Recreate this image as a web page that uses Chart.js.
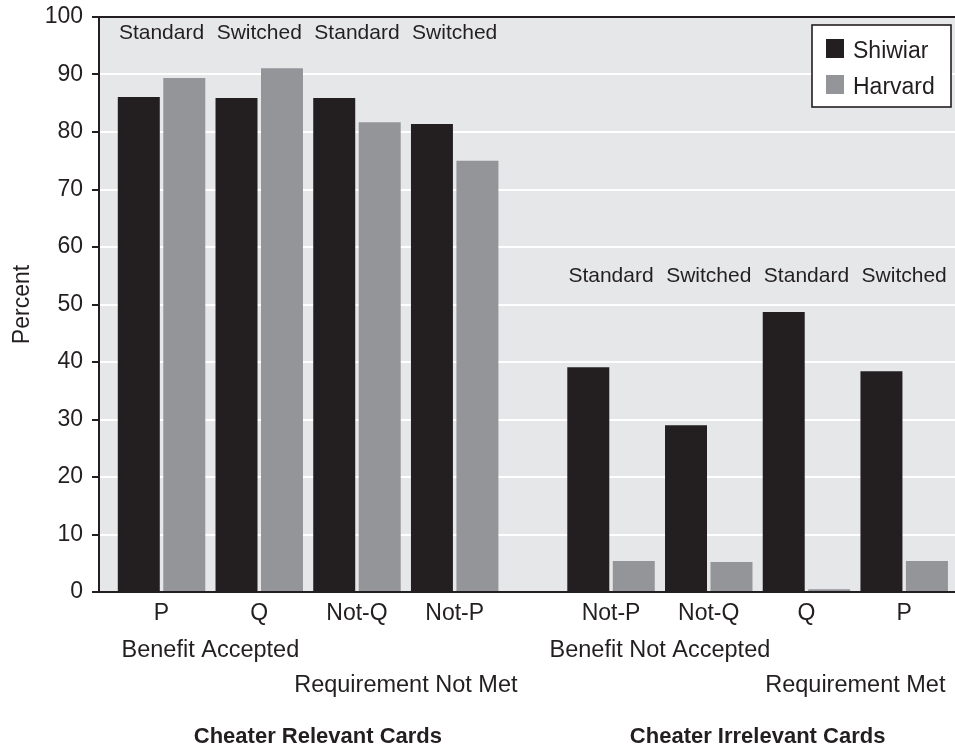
<!DOCTYPE html>
<html><head><meta charset="utf-8">
<script src="https://cdn.jsdelivr.net/npm/chart.js@4.4.0/dist/chart.umd.min.js"></script>
<style>html,body{margin:0;padding:0;background:#fff;overflow:hidden}#wrap{width:955px;height:748px;position:relative}</style>
</head><body><div id="wrap"><canvas id="c" width="955" height="748"></canvas></div>
<script>
// ---- data ----
const cards = ['P', 'Q', 'Not-Q', 'Not-P', 'Not-P', 'Not-Q', 'Q', 'P'];
const conditions = ['Standard', 'Switched', 'Standard', 'Switched', 'Standard', 'Switched', 'Standard', 'Switched'];
const shiwiar = [86.1, 85.9, 85.9, 81.4, 39.1, 29.0, 48.7, 38.4];
const harvard = [89.4, 91.1, 81.7, 75.0, 5.4, 5.2, 0.5, 5.4];
const pairLabels = ['Benefit Accepted', 'Requirement Not Met', 'Benefit Not Accepted', 'Requirement Met'];
const groupTitles = ['Cheater Relevant Cards', 'Cheater Irrelevant Cards'];
const seriesNames = ['Shiwiar', 'Harvard'];
const yTickValues = [0, 10, 20, 30, 40, 50, 60, 70, 80, 90, 100];

// ---- layout (not data) ----
const GROUP_GAP = 0.6;
const xPos = cards.map((c, i) => i + 1 + (i >= 4 ? GROUP_GAP : 0));
const X_MIN = 0.36, X_MAX = 9.12;
const condY = [96.1, 96.1, 96.1, 96.1, 54.0, 54.0, 54.0, 54.0];
const groupCenters = [2.6, 7.1];
const INK = '#231f20';
const FONT = '"Liberation Sans", Arial, Helvetica, sans-serif';

const toXY = arr => arr.map((v, i) => ({ x: xPos[i], y: v }));

const deco = {
  id: 'deco',
  beforeDraw(chart) {
    const { ctx, chartArea: a } = chart;
    ctx.save();
    ctx.fillStyle = '#ffffff';
    ctx.fillRect(0, 0, chart.width, chart.height);
    ctx.fillStyle = '#e6e7e8';
    ctx.fillRect(a.left, a.top, a.right - a.left, a.bottom - a.top);
    ctx.restore();
  },
  afterDraw(chart) {
    const { ctx } = chart;
    const xs = chart.scales.x, ys = chart.scales.y;
    ctx.save();
    ctx.fillStyle = INK;
    ctx.textAlign = 'center';
    ctx.textBaseline = 'alphabetic';
    // condition labels above bars
    ctx.font = '21px ' + FONT;
    conditions.forEach((t, i) => {
      ctx.fillText(t, xs.getPixelForValue(xPos[i]), ys.getPixelForValue(condY[i]));
    });
    // pair labels under the axis
    ctx.font = '23.5px ' + FONT;
    const rows = [657, 692, 657, 692];
    pairLabels.forEach((t, k) => {
      const xv = (xPos[2 * k] + xPos[2 * k + 1]) / 2;
      ctx.fillText(t, xs.getPixelForValue(xv), rows[k]);
    });
    // group titles
    ctx.font = 'bold 22px ' + FONT;
    groupTitles.forEach((t, g) => {
      ctx.fillText(t, xs.getPixelForValue(groupCenters[g]), 743);
    });
    // legend box
    ctx.fillStyle = '#ffffff';
    ctx.fillRect(812, 25, 139, 82);
    ctx.strokeStyle = INK;
    ctx.lineWidth = 1.6;
    ctx.strokeRect(812, 25, 139, 82);
    ctx.font = '23px ' + FONT;
    ctx.textAlign = 'left';
    chart.data.datasets.forEach((ds, i) => {
      ctx.fillStyle = ds.backgroundColor;
      ctx.fillRect(826, 39 + i * 36, 18, 19);
      ctx.fillStyle = INK;
      ctx.fillText(ds.label, 853, 58 + i * 35.5);
    });
    ctx.restore();
  }
};

new Chart(document.getElementById('c'), {
  type: 'bar',
  data: {
    datasets: [
      { label: seriesNames[0], data: toXY(shiwiar), backgroundColor: '#231f20', borderWidth: 0 },
      { label: seriesNames[1], data: toXY(harvard), backgroundColor: '#939598', borderWidth: 0 }
    ]
  },
  options: {
    responsive: false,
    animation: false,
    devicePixelRatio: 1,
    categoryPercentage: 0.931,
    barPercentage: 0.923,
    layout: { padding: { top: 17, right: 0, bottom: 0, left: 0 } },
    plugins: { legend: { display: false }, tooltip: { enabled: false } },
    scales: {
      x: {
        type: 'linear',
        min: X_MIN, max: X_MAX,
        offset: false,
        grid: { display: false, drawTicks: false },
        border: { display: true, color: INK, width: 2, z: 1 },
        afterBuildTicks(scale) { scale.ticks = xPos.map(v => ({ value: v })); },
        afterFit(scale) { scale.height = 156; scale.paddingLeft = 0; scale.paddingRight = 0; },
        ticks: {
          autoSkip: false, maxRotation: 0, minRotation: 0,
          padding: 8,
          color: INK,
          font: { family: FONT, size: 23 },
          callback: (v, i) => cards[i]
        }
      },
      y: {
        min: 0, max: 100,
        afterBuildTicks(scale) { scale.ticks = yTickValues.map(v => ({ value: v })); },
        afterFit(scale) { scale.width = 99; scale.paddingTop = 0; scale.paddingBottom = 0; },
        grid: {
          lineWidth: 2,
          color: c => (c.tick && c.tick.value === 100) ? INK : (c.tick && c.tick.value === 0 ? 'rgba(0,0,0,0)' : '#ffffff'),
          tickColor: INK,
          tickLength: 7,
          drawTicks: true
        },
        border: { display: true, color: INK, width: 2, z: 1 },
        ticks: {
          padding: 9,
          color: INK,
          font: { family: FONT, size: 23 },
          callback: v => v
        },
        title: {
          display: true, text: 'Percent', color: INK,
          font: { family: FONT, size: 23 },
          padding: { top: 9, bottom: 0 }
        }
      }
    }
  },
  plugins: [deco]
});
</script></body></html>
